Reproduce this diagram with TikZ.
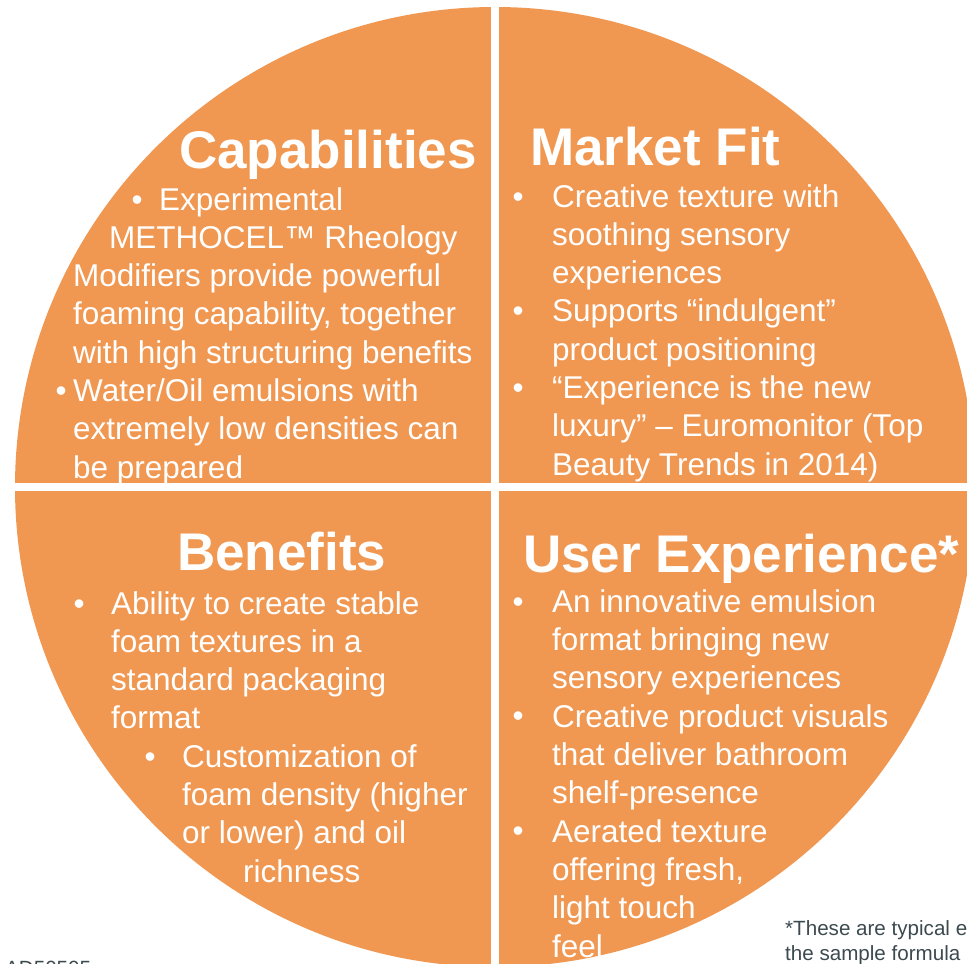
\documentclass[tikz,border=0pt]{standalone}
\usepackage{fontspec}
\setmainfont{Liberation Sans}
\definecolor{petal}{RGB}{240,152,82}
\definecolor{note}{RGB}{60,74,80}

\begin{document}
\begin{tikzpicture}[x=1pt,y=-1pt,
  head/.style={anchor=base west, inner sep=0pt, text=white, font=\bfseries\fontsize{53}{60}\selectfont},
  body/.style={anchor=base west, inner sep=0pt, text=white, align=left, font=\fontsize{31.5}{38.3}\selectfont},
  small/.style={anchor=base west, inner sep=0pt, text=note, align=left, font=\fontsize{20.6}{25}\selectfont}]
 \useasboundingbox (0,0) rectangle (967,964);
 \fill[petal] (495,487) circle[radius=480pt];
 % capabilities (blocks sit on their last baseline)
 \node[head] (cap) at (179,168) {Capabilities};
 \node[body] (capb1) at (131.5,210) {\textbullet};
 \node[body] (cap1) at (159,210) {Experimental};
 \node[body] (cap2) at (109,248.3) {METHOCEL™ Rheology};
 \node[body] (cap3) at (73,478.1) {Modifiers provide powerful\\foaming capability, together\\with high structuring benefits\\Water/Oil emulsions with\\extremely low densities can\\be prepared};
 \node[body] (capb2) at (55.5,401.6) {\textbullet};
 % market fit
 \node[head] (mf) at (530,165) {Market Fit};
 \node[body] (mfb1) at (512.5,207) {\textbullet};
 \node[body] (mfb2) at (512.5,321.7) {\textbullet};
 \node[body] (mfb3) at (512.5,398) {\textbullet};
 \node[body] (mf1) at (552,475.1) {Creative texture with\\soothing sensory\\experiences\\Supports “indulgent”\\product positioning\\“Experience is the new\\luxury” – Euromonitor (Top\\Beauty Trends in 2014)};
 % benefits
 \node[head] (bn) at (177,570) {Benefits};
 \node[body] (bnb1) at (73.5,614) {\textbullet};
 \node[body] (bn1) at (111,728.9) {Ability to create stable\\foam textures in a\\standard packaging\\format};
 \node[body] (bnb2) at (144.5,767.3) {\textbullet};
 \node[body] (bn2) at (182,843.9) {Customization of\\foam density (higher\\or lower) and oil};
 \node[body] (bn3) at (243,882.7) {richness};
 % user experience
 \node[head] (ux) at (523,572) {User Experience*};
 \node[body] (uxb1) at (512.5,612.3) {\textbullet};
 \node[body] (uxb2) at (512.5,726.7) {\textbullet};
 \node[body] (uxb3) at (512.5,841.7) {\textbullet};
 \node[body] (ux1) at (552,957) {An innovative emulsion\\format bringing new\\sensory experiences\\Creative product visuals\\that deliver bathroom\\shelf-presence\\Aerated texture\\offering fresh,\\light touch\\feel};
 % gaps
 \draw[white, line width=8.5pt] (495,0) -- (495,964);
 \draw[white, line width=8.5pt] (0,487) -- (967,487);
 % notes
 \node[small] (foot) at (785,960) {*These are typical e\\the sample formula};
 \node[small] (code) at (5,975) {AD50505};
\end{tikzpicture}
\end{document}
